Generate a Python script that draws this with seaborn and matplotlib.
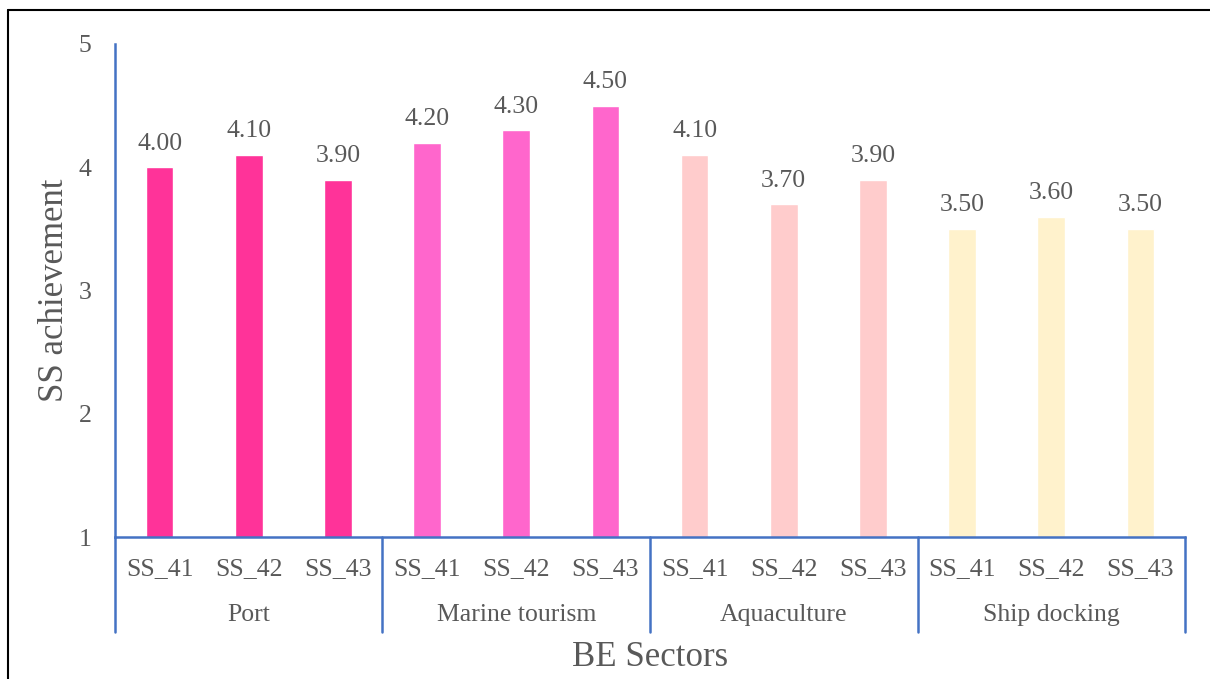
import matplotlib
matplotlib.use("Agg")
from matplotlib import pyplot as plt
from matplotlib.lines import Line2D
import matplotlib.transforms as mtransforms
import pandas as pd
import seaborn as sns

# data
sectors = ["Port", "Marine tourism", "Aquaculture", "Ship docking"]
items = ["SS_41", "SS_42", "SS_43"]
port = [4.0, 4.1, 3.9]
marine_tourism = [4.2, 4.3, 4.5]
aquaculture = [4.1, 3.7, 3.9]
ship_docking = [3.5, 3.6, 3.5]
colors = ["#FF3399", "#FF66CC", "#FFCCCC", "#FFF2CC"]

rows = []
for sec, vals in zip(sectors, [port, marine_tourism, aquaculture, ship_docking]):
    for it, v in zip(items, vals):
        rows.append({"key": sec + "|" + it, "item": it, "sector": sec, "value": v})
df = pd.DataFrame(rows)

sns.set_style("white")
plt.rcParams["font.family"] = ["Liberation Serif", "DejaVu Serif"]
grey = "#595959"
blue = "#4472C4"

fig = plt.figure(figsize=(12.1, 6.79), dpi=100)
ax = fig.add_axes([115 / 1210, 1 - 537 / 679, 1070 / 1210, 493 / 679])

sns.barplot(data=df, x="key", y="value", hue="sector", palette=colors,
            dodge=False, width=0.31, legend=False, ax=ax, saturation=1)

for c in ax.containers:
    ax.bar_label(c, fmt="%.2f", padding=9, fontsize=18.5, color=grey)

ax.set_ylim(1, 5)
ax.set_xlim(-0.5, len(df) - 0.5)
ax.set_yticks([1, 2, 3, 4, 5])
ax.set_xticks(range(len(df)))
ax.set_xticklabels(df["item"])
ax.tick_params(axis="x", length=0, pad=15, labelsize=18.5, labelcolor=grey)
ax.tick_params(axis="y", length=0, pad=17, labelsize=18.5, labelcolor=grey)
ax.set_xlabel("")
ax.set_ylabel("")

for s in ["top", "right"]:
    ax.spines[s].set_visible(False)
for s in ["left", "bottom"]:
    ax.spines[s].set_color(blue)
    ax.spines[s].set_linewidth(1.8)

# group separators and sector labels
trans = mtransforms.blended_transform_factory(ax.transData, ax.transAxes)
n = len(items)
for i in range(len(sectors) + 1):
    xb = i * n - 0.5
    ax.plot([xb, xb], [0, -95 / 493], color=blue, lw=1.8,
            transform=trans, clip_on=False)
for i, sec in enumerate(sectors):
    ax.text(i * n + (n - 1) / 2, -78 / 493, sec, transform=trans,
            ha="center", va="center", fontsize=18.5, color=grey)

# axis titles
fig.text(650 / 1210, 1 - 657 / 679, "BE Sectors", ha="center", va="center",
         fontsize=25, color=grey)
fig.text(55 / 1210, 1 - 290 / 679, "SS achievement", ha="center", va="center",
         rotation=90, fontsize=25, color=grey)

# frame around the picture
fig.add_artist(Line2D([8 / 1210, 8 / 1210], [0, 1 - 10 / 679], color="black",
                      lw=1.5, transform=fig.transFigure))
fig.add_artist(Line2D([8 / 1210, 1], [1 - 10 / 679, 1 - 10 / 679], color="black",
                      lw=1.5, transform=fig.transFigure))

fig.savefig("out.png", dpi=100)
